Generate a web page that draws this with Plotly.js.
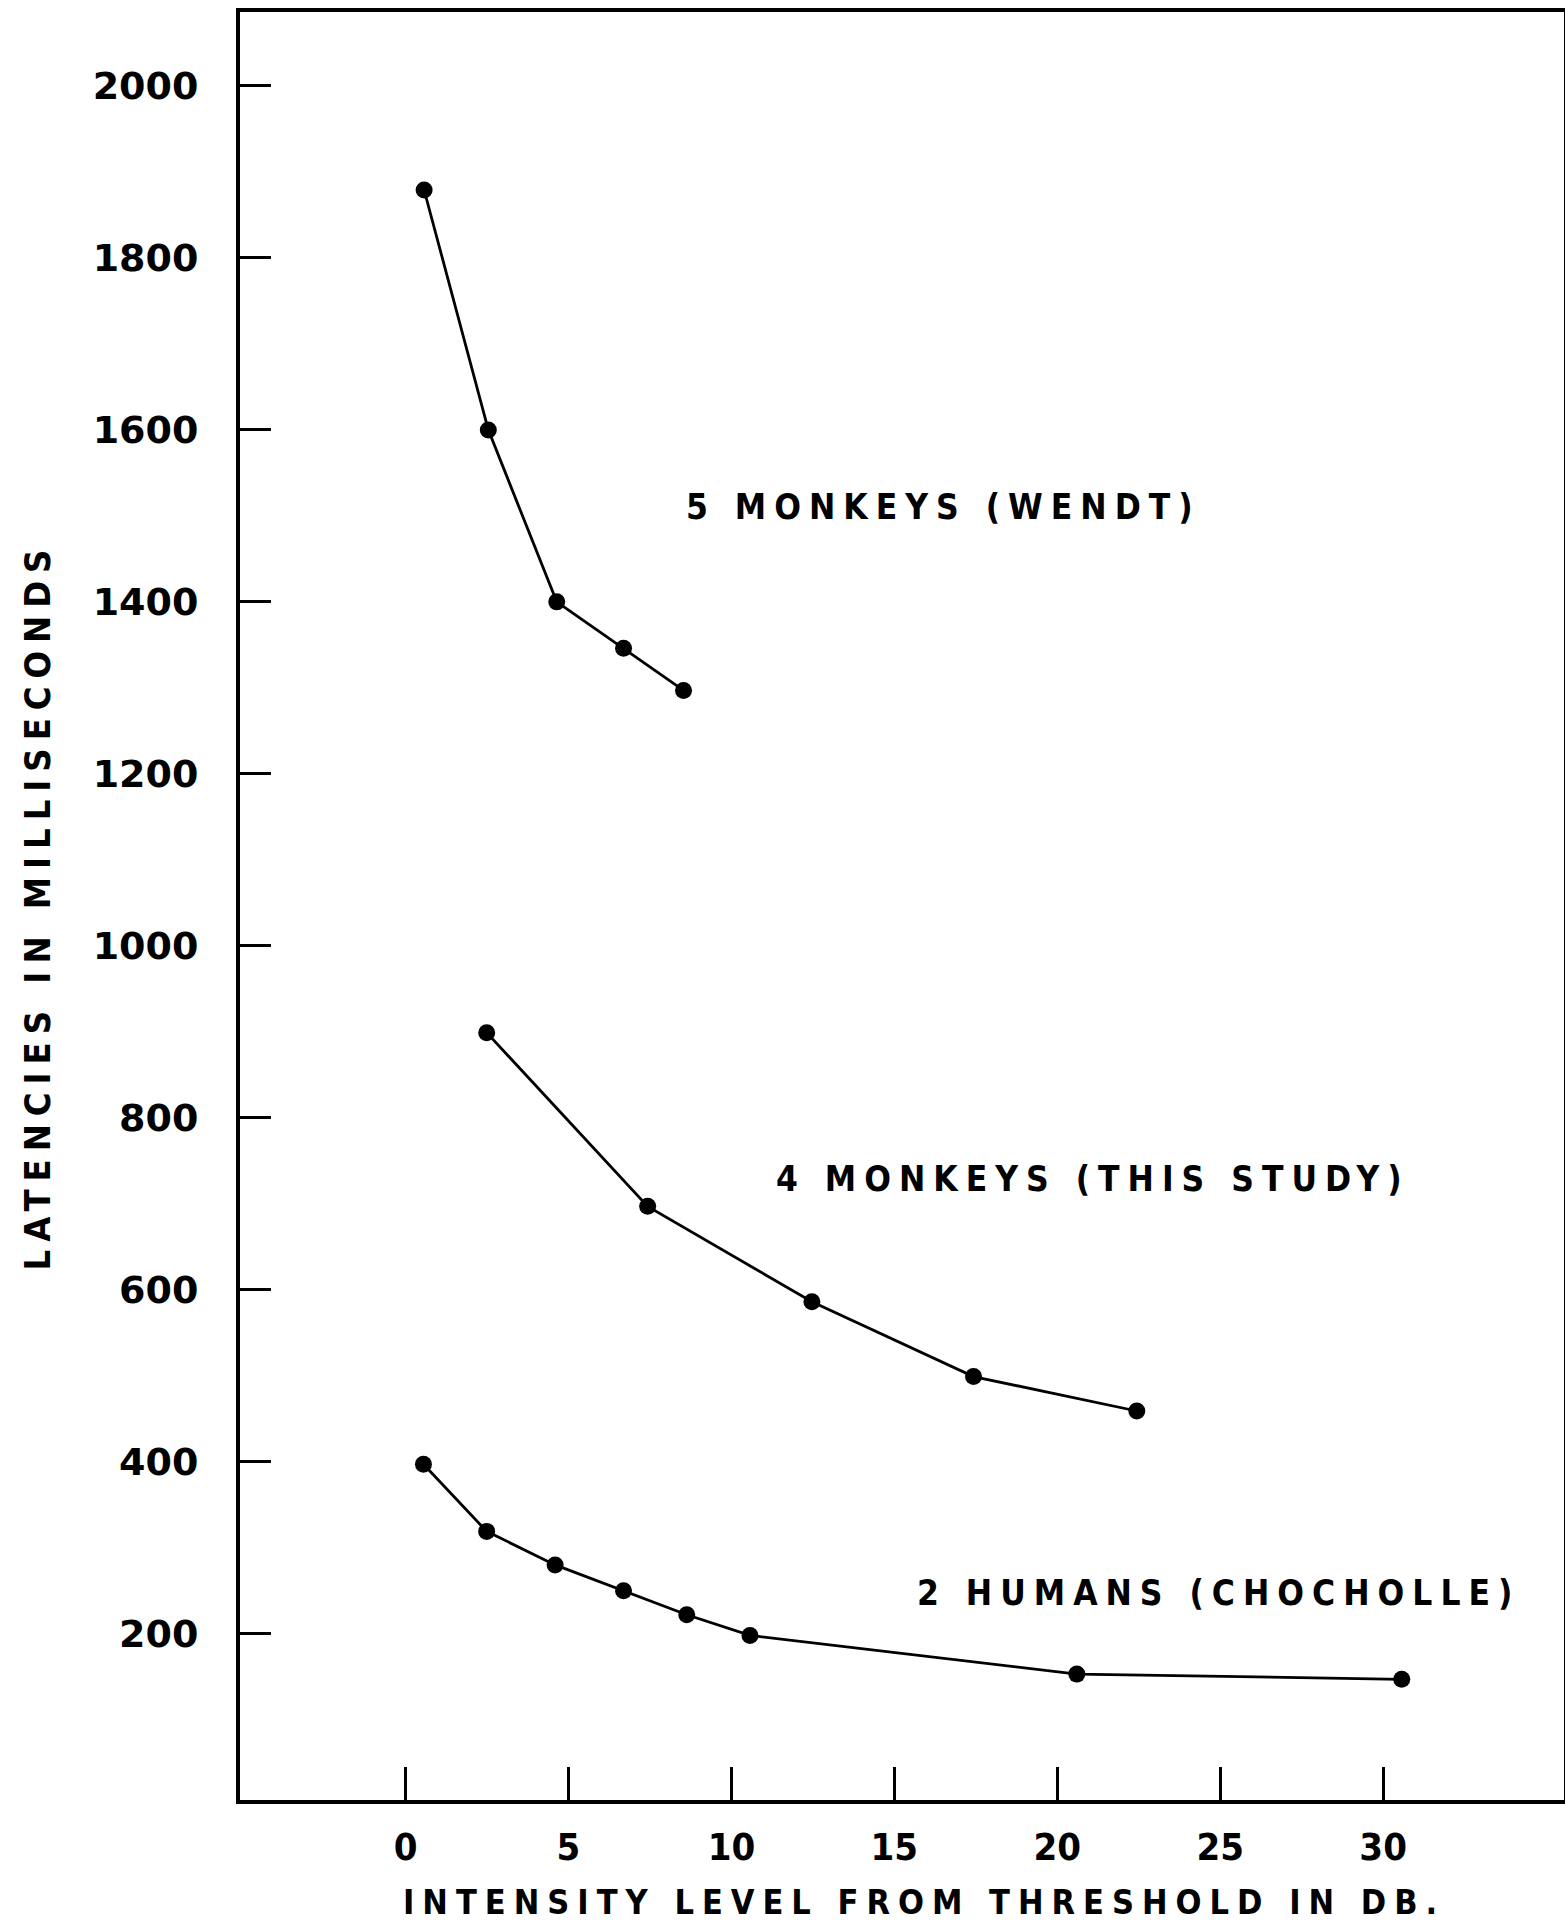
<!DOCTYPE html>
<html>
<head>
<meta charset="utf-8">
<script src="https://cdn.plot.ly/plotly-3.0.1.min.js"></script>
<style>
  html, body { margin: 0; padding: 0; background: #fff; }
  svg text.annotation-text { letter-spacing: 8px; }
  svg text.ytitle { letter-spacing: 8px; }
</style>
</head>
<body>
<div id="chart" style="width:1565px;height:1926px;"></div>
<script>
// Series: 5 monkeys (Wendt)
const wendtX = [0.57, 2.54, 4.64, 6.69, 8.53];
const wendtY = [1879, 1600, 1400, 1346, 1297];
// Series: 4 monkeys (this study)
const studyX = [2.49, 7.43, 12.47, 17.43, 22.44];
const studyY = [899, 697, 586, 499, 459];
// Series: 2 humans (Chocholle)
const humanX = [0.55, 2.49, 4.59, 6.69, 8.63, 10.57, 20.6, 30.57];
const humanY = [397, 319, 280, 250, 222, 198, 153, 147];

const seriesLabels = ["5 MONKEYS (WENDT)", "4 MONKEYS (THIS STUDY)", "2 HUMANS (CHOCHOLLE)"];
const labelX = [8.55, 11.31, 15.63];
const labelY = [1510, 729, 247];

const xTicks = [0, 5, 10, 15, 20, 25, 30];
const yTicks = [200, 400, 600, 800, 1000, 1200, 1400, 1600, 1800, 2000];

const xTitle = "INTENSITY LEVEL FROM THRESHOLD IN DB.";
const yTitle = "LATENCIES IN MILLISECONDS";

const lineStyle = {color: '#000', width: 2.8};
const markerStyle = {color: '#000', size: 17, symbol: 'circle'};

const traces = [
  {x: wendtX, y: wendtY, name: seriesLabels[0]},
  {x: studyX, y: studyY, name: seriesLabels[1]},
  {x: humanX, y: humanY, name: seriesLabels[2]}
].map(t => Object.assign(t, {type: 'scatter', mode: 'lines+markers', line: lineStyle, marker: markerStyle, cliponaxis: false}));

const labelFont = {family: 'DejaVu Sans Condensed, DejaVu Sans', size: 35, color: '#000', weight: 700};

const annotations = seriesLabels.map((txt, i) => ({
  x: labelX[i], y: labelY[i], xref: 'x', yref: 'y',
  text: txt, showarrow: false, xanchor: 'left', yanchor: 'middle',
  font: labelFont
}));
// x-axis title, placed as in the original (slightly right of the plot centre)
annotations.push({
  x: 0.5166, y: -0.057, xref: 'paper', yref: 'paper',
  text: xTitle, showarrow: false, xanchor: 'center', yanchor: 'middle',
  font: {family: 'DejaVu Sans Condensed, DejaVu Sans', size: 34, color: '#000', weight: 700}
});

const layout = {
  width: 1565, height: 1926,
  margin: {l: 240, r: 1, t: 12, b: 126, pad: 0},
  paper_bgcolor: '#fff', plot_bgcolor: '#fff',
  showlegend: false,
  xaxis: {
    range: [-5.08, 35.55],
    tickvals: xTicks, ticktext: xTicks.map(String),
    ticks: 'inside', ticklen: 33, tickwidth: 3, tickcolor: '#000',
    showline: true, linewidth: 4, linecolor: '#000', mirror: true,
    showgrid: false, zeroline: false,
    tickfont: {family: 'Liberation Sans Narrow, DejaVu Sans Condensed', size: 38, color: '#000', weight: 700},
    ticklabelstandoff: 10
  },
  yaxis: {
    range: [6.6, 2086],
    tickvals: yTicks, ticktext: yTicks.map(String),
    ticks: 'inside', ticklen: 31, tickwidth: 3, tickcolor: '#000',
    showline: true, linewidth: 4, linecolor: '#000', mirror: true,
    showgrid: false, zeroline: false,
    tickfont: {family: 'DejaVu Sans', size: 38, color: '#000', weight: 700},
    ticklabelstandoff: 30,
    title: {text: yTitle, font: {family: 'DejaVu Sans Condensed, DejaVu Sans', size: 36, color: '#000', weight: 700}, standoff: 32}
  },
  annotations: annotations
};

Plotly.newPlot('chart', traces, layout, {displayModeBar: false, staticPlot: true});
</script>
</body>
</html>
